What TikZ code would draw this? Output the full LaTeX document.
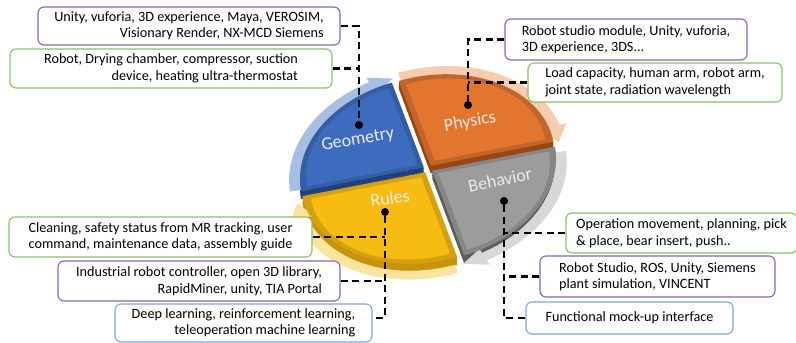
\documentclass[tikz,border=0pt]{standalone}
\usepackage{fontspec}
\setmainfont{Carlito}
\definecolor{geoC}{HTML}{3D6CBE}
\definecolor{geoD}{HTML}{22407A}
\definecolor{geoL}{HTML}{A7BFE3}
\definecolor{phyC}{HTML}{E2762F}
\definecolor{phyD}{HTML}{9A4612}
\definecolor{phyL}{HTML}{F6CDB0}
\definecolor{rulC}{HTML}{F7BC12}
\definecolor{rulD}{HTML}{C8930A}
\definecolor{rulL}{HTML}{FBE3A0}
\definecolor{behC}{HTML}{9C9C9C}
\definecolor{behD}{HTML}{5E5E5E}
\definecolor{behL}{HTML}{D8D8D8}
\definecolor{boxP}{HTML}{8A63B8}
\definecolor{boxG}{HTML}{8CBF6A}
\definecolor{boxB}{HTML}{7FA7D8}
\newcommand\pieArrow[3]{% lo hi colour
  \fill[#3] (#2:124) arc[start angle=#2, end angle={#1+9}, radius=124]
    -- ({#1+9}:118) -- ({#1-1}:130) -- ({#1+9}:143) -- ({#1+9}:136)
    arc[start angle={#1+9}, end angle=#2, radius=136] -- cycle;}
\newcommand\sideSlice[4]{% start end mid dark
  \begin{scope}[shift={(#3:5)}]
    \foreach \k in {0.2,0.4,0.6,0.8,1}{
      \begin{scope}[shift={(-1.5*\k,-10.5*\k)}]
        \fill[#4] (0,0) -- (#1:125) arc[start angle=#1, end angle=#2, radius=125] -- cycle;
      \end{scope}}
  \end{scope}}
\newcommand\topSlice[4]{% start end mid main
  \begin{scope}[shift={(#3:5)}]
    \fill[#4!86!black] (0,0) -- (#1:125) arc[start angle=#1, end angle=#2, radius=125] -- cycle;
    \begin{scope}[shift={(#3:7.5)}, scale=0.9]
      \fill[#4] (0,0) -- (#1:125) arc[start angle=#1, end angle=#2, radius=125] -- cycle;
    \end{scope}
  \end{scope}}
\begin{document}
\begin{tikzpicture}[x=1pt,y=1pt,
  infobox/.style={draw, rounded corners=6pt, line width=1.1pt, fill=white,
    inner xsep=8pt, inner ysep=2pt, font=\fontsize{14.2}{16.5}\selectfont},
  conn/.style={line width=2.5pt, dash pattern=on 7pt off 4.5pt},
  dotm/.style={circle, fill=black, inner sep=0pt, minimum size=8pt},
  pielab/.style={text=white!92!black, font=\fontsize{18}{20}\selectfont}]
\useasboundingbox (0,0) rectangle (796,-343);
\fill[white] (0,0) rectangle (796,-343);

% ---- pie ----
\begin{scope}[shift={(428pt,-169pt)}, rotate=11, yscale=0.72]
  \sideSlice{97}{180}{138.5}{geoD}
  \sideSlice{0}{97}{48.5}{phyD}
  \sideSlice{180}{277}{228.5}{rulD}
  \sideSlice{-83}{0}{-41.5}{behD}
  \begin{scope}[shift={(138.5:5)}]\pieArrow{97}{179}{geoL}\end{scope}
  \begin{scope}[shift={(48.5:5)}]\pieArrow{0}{96}{phyL}\end{scope}
  \begin{scope}[shift={(-41.5:5)}, shift={(-1,-6)}]\pieArrow{-83}{-1}{behL}\end{scope}
  \begin{scope}[shift={(228.5:5)}, shift={(-1.5,-10.5)}]\pieArrow{180}{276}{rulL}\end{scope}
  \topSlice{97}{180}{138.5}{geoC}
  \topSlice{0}{97}{48.5}{phyC}
  \topSlice{180}{277}{228.5}{rulC}
  \topSlice{-83}{0}{-41.5}{behC}
\end{scope}

\node[pielab, rotate=10] (gl) at (358,-140) {Geometry};
\node[pielab, rotate=10] (pl) at (470,-122) {Physics};
\node[pielab, rotate=12] (bl) at (500,-180) {Behavior};
\node[pielab, rotate=8] (rl) at (390,-198) {Rules};

% ---- boxes ----
\node[infobox, draw=boxP, minimum width=302pt, minimum height=38pt, align=right] (b1) at (189,-26)
  {Unity, vuforia, 3D experience, Maya, VEROSIM,\\ Visionary Render, NX-MCD Siemens};
\node[infobox, draw=boxG, minimum width=322pt, minimum height=39pt, align=right] (b2) at (171,-68.5)
  {Robot, Drying chamber, compressor, suction\\ device, heating ultra-thermostat};
\node[infobox, draw=boxP, minimum width=242pt, minimum height=41pt, align=left] (b3) at (626,-39.5)
  {Robot studio module, Unity, vuforia,\\ 3D experience, 3DS...};
\node[infobox, draw=boxG, minimum width=254pt, minimum height=39pt, align=left] (b4) at (655,-82.5)
  {Load capacity, human arm, robot arm,\\ joint state, radiation wavelength};
\node[infobox, draw=boxG, minimum width=303pt, minimum height=40pt, align=right] (b5) at (160.5,-237)
  {Cleaning, safety status from MR tracking, user\\ command, maintenance data, assembly guide};
\node[infobox, draw=boxP, minimum width=282pt, minimum height=40pt, align=right] (b6) at (199,-281)
  {Industrial robot controller, open 3D library,\\ RapidMiner, unity, TIA Portal};
\node[infobox, draw=boxB, minimum width=257pt, minimum height=38pt, align=right] (b7) at (243.5,-323)
  {Deep learning, reinforcement learning,\\ teleoperation machine learning};
\node[infobox, draw=boxG, minimum width=231pt, minimum height=40pt, align=left] (b8) at (681.5,-233)
  {Operation movement, planning, pick\\ \& place, bear insert, push..};
\node[infobox, draw=boxP, minimum width=235pt, minimum height=41pt, align=left] (b9) at (657.5,-276.5)
  {Robot Studio, ROS, Unity, Siemens\\ plant simulation, VINCENT};
\node[infobox, draw=boxB, minimum width=207pt, minimum height=32pt, align=left] (b10) at (629.5,-318)
  {Functional mock-up interface};

% ---- dots and connectors ----
\node[dotm] (G) at (359,-125) {};
\node[dotm] (P) at (468,-105) {};
\node[dotm] (R) at (385,-212) {};
\node[dotm] (B) at (504,-201) {};
\draw[conn] (b1.east) -| (G);
\draw[conn] (b2.east) -- (b2.east -| G);
\draw[conn] (b3.west) -| (P);
\draw[conn] (b4.west) -- (b4.west -| P);
\draw[conn] (R) |- ([yshift=5pt]b7.east);
\draw[conn] (b5.east) -- (b5.east -| R);
\draw[conn] (b6.east) -- (b6.east -| R);
\draw[conn] (B) |- (b10.west);
\draw[conn] (b8.west) -- (b8.west -| B);
\draw[conn] (b9.west) -- (b9.west -| B);
\end{tikzpicture}
\end{document}
